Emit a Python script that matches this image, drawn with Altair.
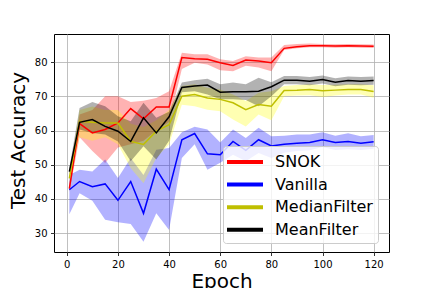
import altair as alt
import pandas as pd

epochs = [1, 5, 10, 15, 20, 25, 30, 35, 40, 45, 50, 55, 60, 65, 70, 75, 80, 85, 90, 95, 100, 105, 110, 115, 120]

series_names = ["SNOK", "Vanilla", "MedianFilter", "MeanFilter"]
line_colors = ["#ff0000", "#0000ff", "#bfbf00", "#000000"]
band_colors = ["#ff0000", "#0000ff", "#ffff00", "#000000"]

snok_mean = [43.0, 62.0, 59.3, 60.3, 62.2, 66.4, 63.4, 66.9, 66.9, 81.3, 81.0, 80.8, 79.8, 79.0, 80.6, 80.3, 79.8, 84.0, 84.5, 84.8, 84.8, 84.7, 84.8, 84.7, 84.6]
snok_hi = [44.5, 64.7, 66.0, 70.0, 70.0, 68.3, 68.7, 69.5, 71.5, 82.7, 82.3, 82.3, 80.8, 80.3, 81.7, 81.3, 81.3, 85.0, 85.3, 85.4, 85.3, 85.2, 85.3, 85.2, 85.1]
snok_lo = [42.0, 58.0, 54.0, 50.5, 55.0, 56.0, 57.0, 60.0, 62.5, 78.0, 79.8, 79.3, 77.6, 77.3, 78.9, 78.4, 77.3, 83.5, 84.0, 84.3, 84.3, 84.2, 84.3, 84.2, 84.1]

van_mean = [42.7, 45.1, 43.6, 44.4, 39.6, 45.1, 35.8, 48.7, 42.7, 57.3, 59.1, 53.2, 52.9, 56.8, 54.2, 57.3, 55.5, 56.0, 56.3, 56.5, 57.3, 56.5, 56.8, 56.3, 56.7]
van_hi = [47.0, 48.5, 48.0, 51.5, 46.1, 52.0, 47.0, 54.4, 54.9, 59.5, 61.1, 60.3, 56.5, 60.3, 57.8, 60.8, 58.3, 58.5, 58.8, 58.8, 59.5, 58.5, 59.2, 58.3, 58.7]
van_lo = [35.5, 41.7, 39.5, 33.9, 33.2, 32.7, 27.5, 35.8, 30.9, 52.0, 56.0, 48.5, 50.6, 52.9, 51.0, 53.4, 52.0, 53.5, 54.0, 54.2, 55.2, 54.3, 54.5, 54.3, 54.7]

med_mean = [46.0, 62.7, 62.4, 62.2, 62.2, 56.8, 55.9, 59.8, 61.7, 70.0, 70.5, 69.5, 69.1, 68.1, 66.1, 67.6, 67.1, 71.7, 71.8, 72.0, 71.6, 71.8, 72.0, 72.0, 71.4]
med_hi = [47.0, 66.0, 67.0, 66.0, 66.0, 62.0, 61.0, 63.0, 66.0, 73.0, 73.5, 72.5, 72.0, 70.5, 68.6, 71.0, 71.5, 73.0, 73.3, 73.5, 73.3, 73.4, 73.5, 73.5, 73.2]
med_lo = [45.0, 58.0, 57.0, 58.0, 56.0, 49.0, 44.6, 52.0, 56.0, 67.5, 67.1, 66.1, 65.6, 63.2, 61.2, 64.7, 63.0, 70.0, 70.2, 70.3, 69.8, 70.2, 70.5, 70.5, 69.6]

mean_mean = [48.0, 62.4, 63.2, 61.2, 59.8, 56.8, 63.7, 59.3, 64.0, 72.6, 73.0, 73.3, 71.2, 71.3, 71.3, 71.5, 72.8, 74.7, 74.7, 74.4, 74.9, 74.1, 74.6, 74.4, 74.6]
mean_hi = [49.0, 66.6, 68.3, 67.1, 64.2, 62.7, 68.1, 63.7, 65.5, 74.0, 74.7, 75.1, 73.5, 74.0, 73.5, 75.4, 74.1, 75.9, 75.9, 75.6, 76.1, 75.3, 75.8, 75.6, 75.8]
mean_lo = [47.0, 60.3, 59.3, 58.8, 56.8, 51.0, 55.4, 51.5, 57.0, 71.2, 71.5, 70.5, 69.1, 69.1, 68.9, 67.1, 70.0, 73.5, 73.5, 73.2, 73.7, 72.9, 73.4, 73.2, 73.4]

x_ticks = [0, 20, 40, 60, 80, 100, 120]
y_ticks = [30, 40, 50, 60, 70, 80]

rows = []
for name, m, lo, hi in [
    ("SNOK", snok_mean, snok_lo, snok_hi),
    ("Vanilla", van_mean, van_lo, van_hi),
    ("MedianFilter", med_mean, med_lo, med_hi),
    ("MeanFilter", mean_mean, mean_lo, mean_hi),
]:
    for e, a, b, c in zip(epochs, m, lo, hi):
        rows.append({"series": name, "band": name, "epoch": e, "mean": a, "lo": b, "hi": c})
df = pd.DataFrame(rows)

font = "DejaVu Sans"

x_enc = alt.X("epoch:Q",
              scale=alt.Scale(domain=[-5, 126], nice=False, zero=False),
              axis=alt.Axis(values=x_ticks, title="Epoch", titleFontSize=20,
                            titleFontWeight="normal", titleFont=font, titleColor="black",
                            titleBaseline="alphabetic", titleY=35.6, titleX=167.5, titleAlign="center"))
y_scale = alt.Scale(domain=[24.5, 88.2], nice=False, zero=False)
y_axis = alt.Axis(values=y_ticks, title="Test Accuracy", titleFontSize=20,
                  titleFontWeight="normal", titleFont=font, titleColor="black",
                  titleAngle=270, titleBaseline="alphabetic", titleX=-30, titleY=106,
                  titleAlign="center")

bands = alt.Chart(df).mark_area(opacity=0.3, strokeWidth=0).encode(
    x=x_enc,
    y=alt.Y("lo:Q", scale=y_scale, axis=y_axis),
    y2="hi:Q",
    fill=alt.Fill("band:N", scale=alt.Scale(domain=series_names, range=band_colors), legend=None),
)

lines = alt.Chart(df).mark_line(strokeWidth=1.5).encode(
    x=x_enc,
    y=alt.Y("mean:Q", scale=y_scale, axis=y_axis),
    stroke=alt.Stroke("series:N",
                      scale=alt.Scale(domain=series_names, range=line_colors),
                      legend=alt.Legend(title=None, orient="none", legendX=169, legendY=112,
                                        symbolType="M-2,0H2", symbolSize=324, symbolStrokeWidth=4,
                                        symbolOffset=6, labelOffset=19,
                                        labelFontSize=16, labelFont=font, labelColor="black",
                                        fillColor="rgba(255,255,255,0.8)", strokeColor="#cccccc",
                                        cornerRadius=3, padding=5, rowPadding=3.6)),
)

chart = alt.layer(bands, lines).resolve_legend(fill="independent", stroke="independent").properties(
    width=335, height=218,
    autosize=alt.AutoSizeParams(type="none"),
    padding={"left": 46, "top": 26, "right": 35, "bottom": 45},
).configure_view(
    stroke="black", strokeWidth=1
).configure_axis(
    domain=False, grid=True, gridColor="#b0b0b0", gridWidth=0.8,
    tickColor="black", tickWidth=0.8, tickSize=3.5, labelPadding=3.5,
    labelFontSize=10, labelFont=font, labelColor="black",
)

chart.save("out.html", embed_options={"renderer": "svg", "actions": False})
